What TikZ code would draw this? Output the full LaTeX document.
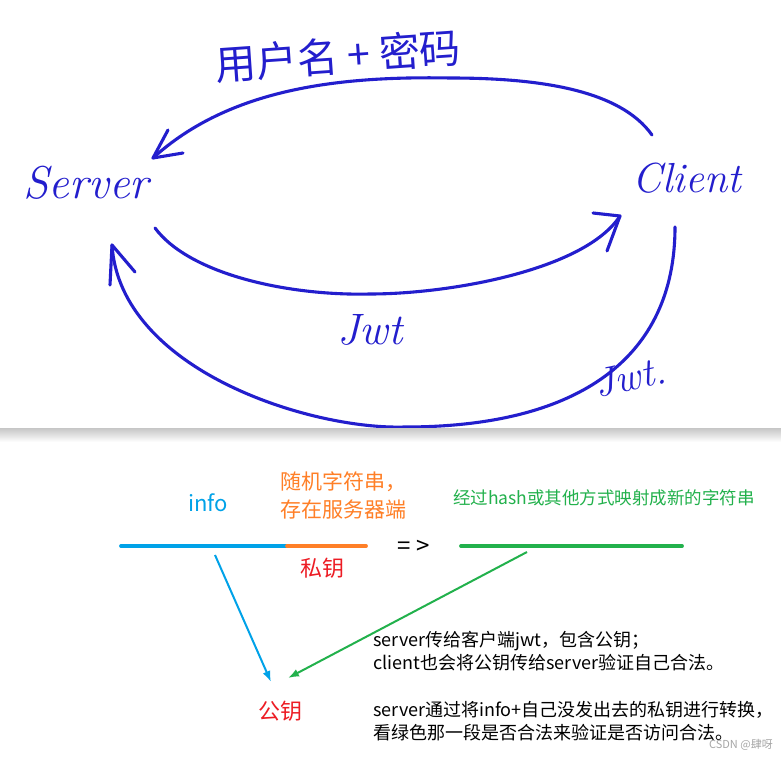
\documentclass[tikz,border=0pt]{standalone}
\usepackage{fontspec}
\usetikzlibrary{arrows.meta}
\newfontfamily\cjk{Noto Sans CJK SC}
\definecolor{pen}{RGB}{35,30,205}
\definecolor{infoblue}{RGB}{0,162,232}
\definecolor{keyorange}{RGB}{255,127,39}
\definecolor{keyred}{RGB}{237,28,36}
\definecolor{hashgreen}{RGB}{34,177,76}

\begin{document}
\begin{tikzpicture}[x=1pt,y=-1pt,
  penline/.style={draw=pen,line width=3.1pt,line cap=round,line join=round},
  hand/.style={text=pen,inner sep=0pt,font=\fontsize{#1}{#1}\selectfont\itshape},
  handcjk/.style={text=pen,inner sep=0pt,font=\cjk\fontsize{#1}{#1}\selectfont},
  label/.style={inner sep=0pt,font=\cjk\fontsize{#1}{#1}\selectfont},
  bar/.style={line width=3.8pt,line cap=round},
  link/.style={line width=2pt,-{Latex[length=11pt,width=8pt]}}]
  \useasboundingbox (0,0) rectangle (781,759);
  \fill[white] (0,0) rectangle (781,759);
  % sketch
  \node[hand=46] (server) at (86,183) {Server};
  \node[hand=42] (client) at (687,178) {Client};
  \node[handcjk=41,rotate=4] (userpw) at (338,56) {用户名 + 密码};
  \node[hand=44] (jwtmid) at (370,330) {Jwt};
  \node[hand=40,rotate=12] (jwtout) at (630,377) {Jwt.};
  \coordinate (cli-a) at (652,135);
  \coordinate (srv-a) at (153,158);
  \coordinate (srv-b) at (155,228);
  \coordinate (cli-b) at (620,216);
  \coordinate (cli-c) at (675,227);
  \coordinate (srv-c) at (112,245);
  \draw[penline] (cli-a) .. controls (620,90) and (540,78) .. (450,78)
    .. controls (340,76) and (230,88) .. (srv-a);
  \draw[penline] (168,130) -- (srv-a) -- (183,153);
  \draw[penline] (srv-b) .. controls (190,275) and (290,296) .. (370,294)
    .. controls (450,294) and (585,270) .. (cli-b);
  \draw[penline] (593,213) -- (cli-b) -- (607,251);
  \draw[penline] (cli-c) .. controls (675,357) and (580,427) .. (405,427)
    .. controls (310,430) and (120,370) .. (srv-c);
  \draw[penline] (110,285) -- (srv-c) -- (135,272);
  % divider
  \shade[top color=gray!45,bottom color=white] (0,428) rectangle (781,442);
  % key sketch
  \node[label=22,text=infoblue] (info) at (208,503) {info};
  \node[label=21,text=keyorange,anchor=west,align=left,
    font=\cjk\fontsize{21}{28}\selectfont] (secret) at (280,495)
    {随机字符串，\\存在服务器端};
  \node[label=17.5,text=hashgreen,anchor=west] (hashnote) at (453,498)
    {经过hash或其他方式映射成新的字符串};
  \coordinate (info-l) at (121,546);
  \coordinate (info-r) at (287,546);
  \coordinate (secret-r) at (366,546);
  \coordinate (hash-l) at (461,546);
  \coordinate (hash-r) at (682,546);
  \draw[bar,infoblue] (info-l) -- (info-r);
  \draw[bar,keyorange] (info-r) -- (secret-r);
  \draw[bar,hashgreen] (hash-l) -- (hash-r);
  \node[label=24] (maps) at (414,547) {= >};
  \node[label=22,text=keyred] (privkey) at (322,568) {私钥};
  \node[label=22,text=keyred] (pubkey) at (280,711) {公钥};
  \coordinate (info-out) at (215,555);
  \coordinate (hash-out) at (527,552);
  \coordinate (pk-in1) at (271,682);
  \coordinate (pk-in2) at (288,678);
  \draw[link,infoblue] (info-out) -- (pk-in1);
  \draw[link,hashgreen] (hash-out) -- (pk-in2);
  \node[label=18,anchor=west,align=left,font=\cjk\fontsize{18}{23}\selectfont]
    (note1) at (373,651.5)
    {server传给客户端jwt，包含公钥；\\client也会将公钥传给server验证自己合法。};
  \node[label=18,anchor=west,align=left,font=\cjk\fontsize{18}{23}\selectfont]
    (note2) at (373,721.5)
    {server通过将info+自己没发出去的私钥进行转换，\\看绿色那一段是否合法来验证是否访问合法。};
  \node[label=11,text=gray!70,anchor=east] (mark) at (773,745) {CSDN @肆呀};
\end{tikzpicture}
\end{document}
